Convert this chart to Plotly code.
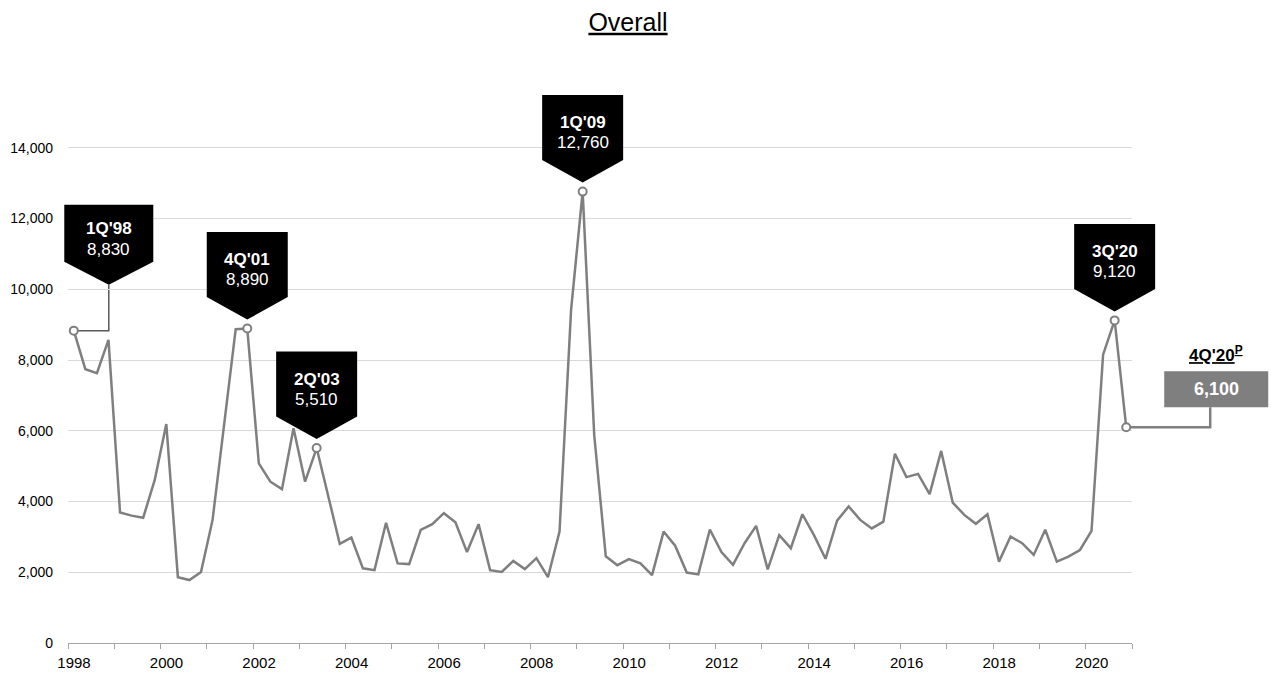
import plotly.graph_objects as go

# Quarterly series, 1Q'98 through 4Q'20
years = list(range(1998, 2021))
quarter_nums = [1, 2, 3, 4]
values = [
    8830, 7740, 7630, 8570,   # 1998
    3690, 3600, 3540, 4610,   # 1999
    6190, 1860, 1780, 2010,   # 2000
    3480, 6120, 8870, 8890,   # 2001
    5080, 4560, 4350, 6070,   # 2002
    4560, 5510, 4190, 2800,   # 2003
    2980, 2110, 2060, 3400,   # 2004
    2250, 2230, 3200, 3360,   # 2005
    3670, 3410, 2570, 3360,   # 2006
    2060, 2010, 2320, 2090,   # 2007
    2400, 1860, 3150, 9420,   # 2008
    12760, 5880, 2450, 2200,  # 2009
    2370, 2250, 1920, 3150,   # 2010
    2750, 1990, 1940, 3210,   # 2011
    2570, 2210, 2820, 3310,   # 2012
    2080, 3050, 2680, 3640,   # 2013
    3050, 2380, 3460, 3860,   # 2014
    3480, 3240, 3430, 5350,   # 2015
    4690, 4780, 4210, 5430,   # 2016
    3970, 3620, 3370, 3640,   # 2017
    2300, 3010, 2820, 2490,   # 2018
    3200, 2300, 2440, 2630,   # 2019
    3170, 8150, 9120, 6100,   # 2020
]

quarter_labels = [f"{q}Q'{y % 100:02d}" for y in years for q in quarter_nums]
# each quarter plotted at its mid-point on a continuous year axis
x_pos = [y + (q - 1) / 4 + 0.125 for y in years for q in quarter_nums]

highlight_labels = ["1Q'98", "4Q'01", "2Q'03", "1Q'09", "3Q'20"]
preliminary_label = "4Q'20"

y_ticks = [0, 2000, 4000, 6000, 8000, 10000, 12000, 14000]

X_MIN, X_MAX = 1998, 2021
Y_MIN, Y_MAX = 0, 16000

LINE_GREY = "#7f7f7f"
AXIS_GREY = "#a6a6a6"
FONT = "Liberation Sans, Arial, sans-serif"

fig = go.Figure()

fig.add_trace(go.Scatter(
    x=x_pos, y=values, mode="lines",
    line=dict(color=LINE_GREY, width=2.5),
    hoverinfo="skip", showlegend=False,
))

marked = highlight_labels + [preliminary_label]
mi = [quarter_labels.index(l) for l in marked]
fig.add_trace(go.Scatter(
    x=[x_pos[i] for i in mi], y=[values[i] for i in mi], mode="markers",
    marker=dict(symbol="circle", size=8, color="white",
                line=dict(color=LINE_GREY, width=2)),
    cliponaxis=False, hoverinfo="skip", showlegend=False,
))


def to_paper_x(x):
    return (x - X_MIN) / (X_MAX - X_MIN)


def to_paper_y(y):
    return (y - Y_MIN) / (Y_MAX - Y_MIN)


def pentagon(dx, w, tip_up, notch, rect_h):
    bottom = tip_up + notch
    top = bottom + rect_h
    return (f"M {dx},{tip_up} L {dx + w / 2},{bottom} L {dx + w / 2},{top} "
            f"L {dx - w / 2},{top} L {dx - w / 2},{bottom} Z")


shapes = []
annotations = []

for lab in highlight_labels:
    i = quarter_labels.index(lab)
    px, py = x_pos[i], values[i]
    if lab == "1Q'98":
        dx, w, tip_up, notch, rect_h = 35, 89, 46, 23, 57
        lab_up, val_up = 102, 81
        shapes.append(dict(
            type="path", xref="paper", yref="paper",
            xsizemode="pixel", ysizemode="pixel",
            xanchor=to_paper_x(px), yanchor=to_paper_y(py),
            path=f"M {dx},{tip_up} L {dx},0 L 4,0",
            line=dict(color="#595959", width=1.5),
            fillcolor="rgba(0,0,0,0)", layer="below",
        ))
    else:
        dx, w, tip_up, notch, rect_h = 0, 81, 9, 22.5, 65
        lab_up, val_up = 69, 49
    shapes.append(dict(
        type="path", xref="paper", yref="paper",
        xsizemode="pixel", ysizemode="pixel",
        xanchor=to_paper_x(px), yanchor=to_paper_y(py),
        path=pentagon(dx, w, tip_up, notch, rect_h),
        fillcolor="black", line=dict(width=0), layer="above",
    ))
    annotations.append(dict(
        x=px, y=py, xref="x", yref="y", xshift=dx, yshift=lab_up,
        text=f"<b>{lab}</b>", showarrow=False,
        xanchor="center", yanchor="middle",
        font=dict(family=FONT, size=17, color="white"),
    ))
    annotations.append(dict(
        x=px, y=py, xref="x", yref="y", xshift=dx, yshift=val_up,
        text=f"{py:,}", showarrow=False,
        xanchor="center", yanchor="middle",
        font=dict(family=FONT, size=17, color="white"),
    ))

# preliminary latest quarter: grey value box off the right edge of the plot
i = quarter_labels.index(preliminary_label)
px, py = x_pos[i], values[i]
shapes.append(dict(
    type="path", xref="paper", yref="paper",
    xsizemode="pixel", ysizemode="pixel",
    xanchor=to_paper_x(px), yanchor=to_paper_y(py),
    path="M 84,20 L 84,0 L 4,0",
    line=dict(color=LINE_GREY, width=2.5),
    fillcolor="rgba(0,0,0,0)", layer="below",
))
shapes.append(dict(
    type="rect", xref="paper", yref="paper",
    xsizemode="pixel", ysizemode="pixel",
    xanchor=to_paper_x(px), yanchor=to_paper_y(py),
    x0=38, x1=142, y0=20, y1=56,
    fillcolor=LINE_GREY, line=dict(width=0),
))
annotations.append(dict(
    x=px, y=py, xref="x", yref="y", xshift=90, yshift=38,
    text=f"<b>{py:,}</b>", showarrow=False,
    xanchor="center", yanchor="middle",
    font=dict(family=FONT, size=18, color="white"),
))
annotations.append(dict(
    x=px, y=py, xref="x", yref="y", xshift=90, yshift=73,
    text=f"<u><b>{preliminary_label}<sup>P</sup></b></u>", showarrow=False,
    xanchor="center", yanchor="middle",
    font=dict(family=FONT, size=17, color="black"),
))

fig.update_layout(
    width=1271, height=675,
    margin=dict(l=68, r=139, t=77, b=32, pad=0),
    paper_bgcolor="white", plot_bgcolor="white",
    font=dict(family=FONT, size=14, color="black"),
    title=dict(
        text="<u>Overall</u>", x=628 / 1271, xref="container", xanchor="center",
        y=1 - 22 / 675, yref="container", yanchor="middle",
        font=dict(family=FONT, size=25, color="black"),
    ),
    xaxis=dict(
        range=[X_MIN, X_MAX], tick0=X_MIN, dtick=2, tickformat="d",
        ticks="outside", ticklen=5, tickcolor=AXIS_GREY, tickwidth=1,
        minor=dict(tick0=X_MIN, dtick=1, ticks="outside", ticklen=5,
                   tickcolor=AXIS_GREY, tickwidth=1, showgrid=False),
        showline=True, linecolor=AXIS_GREY, linewidth=1,
        showgrid=False, zeroline=False, automargin=False,
        tickfont=dict(family=FONT, size=15, color="black"),
        ticklabelshift=6, ticklabelstandoff=1,
    ),
    yaxis=dict(
        range=[Y_MIN, Y_MAX], tickvals=y_ticks, tickformat=",",
        showgrid=True, gridcolor="#d9d9d9", gridwidth=1,
        showline=False, zeroline=False, ticks="", automargin=False,
        tickfont=dict(family=FONT, size=14, color="black"),
        ticklabelstandoff=14,
    ),
    shapes=shapes,
    annotations=annotations,
    showlegend=False,
)

fig.write_html("out.html")
